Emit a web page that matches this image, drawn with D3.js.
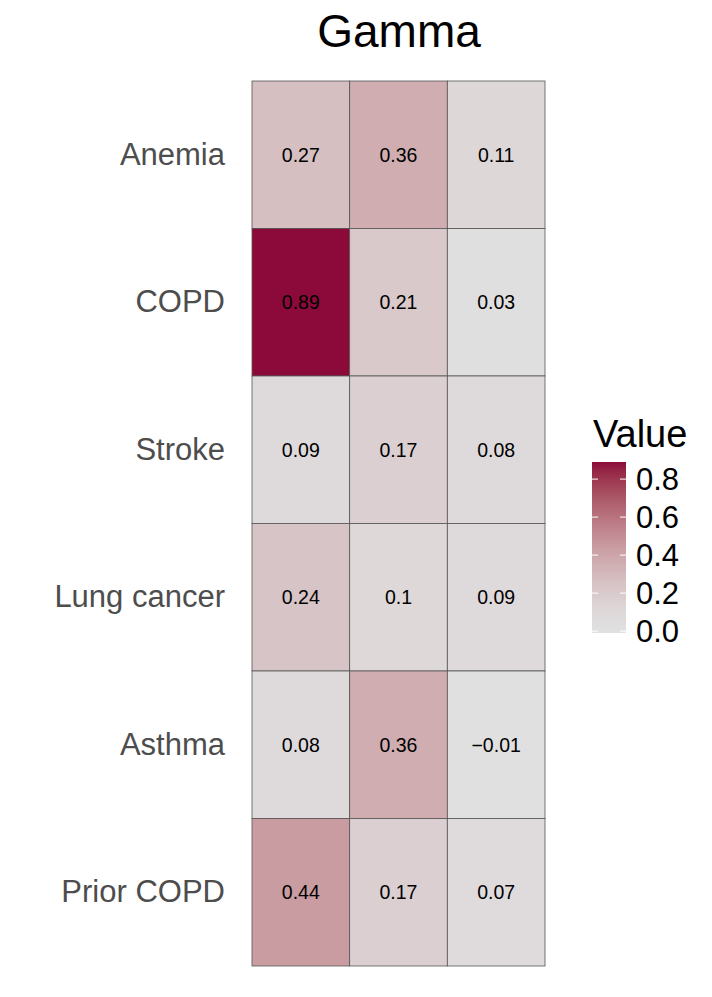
<!DOCTYPE html>
<html>
<head>
<meta charset="utf-8">
<script src="https://cdn.jsdelivr.net/npm/d3@7"></script>
<style>
  body { margin: 0; background: #fff; }
  text { font-family: "Liberation Sans", Arial, sans-serif; }
</style>
</head>
<body>
<script>
// rows top to bottom, three unnamed columns
var rows = ["Anemia", "COPD", "Stroke", "Lung cancer", "Asthma", "Prior COPD"];
var cols = ["c1", "c2", "c3"];
var col1 = [0.27, 0.89, 0.09, 0.24, 0.08, 0.44];
var col2 = [0.36, 0.21, 0.17, 0.1, 0.36, 0.17];
var col3 = [0.11, 0.03, 0.08, 0.09, -0.01, 0.07];
var legendTicks = [0.0, 0.2, 0.4, 0.6, 0.8];

var W = 712, H = 997;
var svg = d3.select("body").append("svg")
  .attr("width", W)
  .attr("height", H);

// flatten to cells
var cells = [];
[col1, col2, col3].forEach(function(vals, j) {
  vals.forEach(function(v, i) {
    cells.push({row: rows[i], col: cols[j], value: v});
  });
});

var x = d3.scaleBand().domain(cols).range([252, 545]);
var y = d3.scaleBand().domain(rows).range([81, 966]);

var vmin = d3.min(cells, function(d) { return d.value; });
var vmax = d3.max(cells, function(d) { return d.value; });
// light grey to wine, mids kept pale
var tScale = d3.scalePow().exponent(1.5).domain([vmin, vmax]).range([0, 1]).clamp(true);
var interp = d3.interpolateLab("#e0e0e0", "#8c0a3a");
var color = function(v) { return interp(tScale(v)); };

svg.append("text")
  .attr("x", 399)
  .attr("y", 47)
  .attr("text-anchor", "middle")
  .attr("font-size", 46)
  .attr("fill", "#000")
  .text("Gamma");

svg.selectAll("rect.cell")
  .data(cells)
  .enter().append("rect")
  .attr("class", "cell")
  .attr("x", function(d) { return x(d.col); })
  .attr("y", function(d) { return y(d.row); })
  .attr("width", x.bandwidth())
  .attr("height", y.bandwidth())
  .attr("fill", function(d) { return color(d.value); })
  .attr("stroke", "#555")
  .attr("stroke-width", 0.8);

svg.selectAll("text.val")
  .data(cells)
  .enter().append("text")
  .attr("class", "val")
  .attr("x", function(d) { return x(d.col) + x.bandwidth() / 2; })
  .attr("y", function(d) { return y(d.row) + y.bandwidth() / 2; })
  .attr("dy", "0.35em")
  .attr("text-anchor", "middle")
  .attr("font-size", 19.5)
  .attr("fill", "#000")
  .text(function(d) { return String(d.value).replace("-", "\u2212"); });

// row labels
var yAxis = svg.append("g")
  .attr("transform", "translate(252,0)")
  .call(d3.axisLeft(y).tickSize(0).tickPadding(27));
yAxis.select(".domain").remove();
yAxis.selectAll("text")
  .attr("font-size", 31)
  .attr("font-family", "Liberation Sans, Arial, sans-serif")
  .attr("fill", "#4d4d4d");

// legend
var lx = 592, lw = 34;
var ly = d3.scaleLinear().domain([vmin, vmax]).range([633, 462]);

var defs = svg.append("defs");
var grad = defs.append("linearGradient")
  .attr("id", "lg")
  .attr("x1", 0).attr("y1", 1).attr("x2", 0).attr("y2", 0);
d3.range(0, 1.0001, 0.05).forEach(function(t) {
  grad.append("stop")
    .attr("offset", t)
    .attr("stop-color", color(vmin + t * (vmax - vmin)));
});

svg.append("text")
  .attr("x", 593)
  .attr("y", 447)
  .attr("font-size", 38)
  .attr("fill", "#000")
  .text("Value");

svg.append("rect")
  .attr("x", lx)
  .attr("y", ly(vmax))
  .attr("width", lw)
  .attr("height", ly(vmin) - ly(vmax))
  .attr("fill", "url(#lg)");

var lt = svg.selectAll("g.ltick")
  .data(legendTicks)
  .enter().append("g")
  .attr("class", "ltick")
  .attr("transform", function(d) { return "translate(0," + ly(d) + ")"; });
lt.append("line")
  .attr("x1", lx).attr("x2", lx + 6)
  .attr("stroke", "#fff").attr("stroke-width", 1);
lt.append("line")
  .attr("x1", lx + lw - 6).attr("x2", lx + lw)
  .attr("stroke", "#fff").attr("stroke-width", 1);
lt.append("text")
  .attr("x", 636)
  .attr("dy", "0.36em")
  .attr("font-size", 31)
  .attr("fill", "#000")
  .text(function(d) { return d3.format(".1f")(d); });
</script>
</body>
</html>
